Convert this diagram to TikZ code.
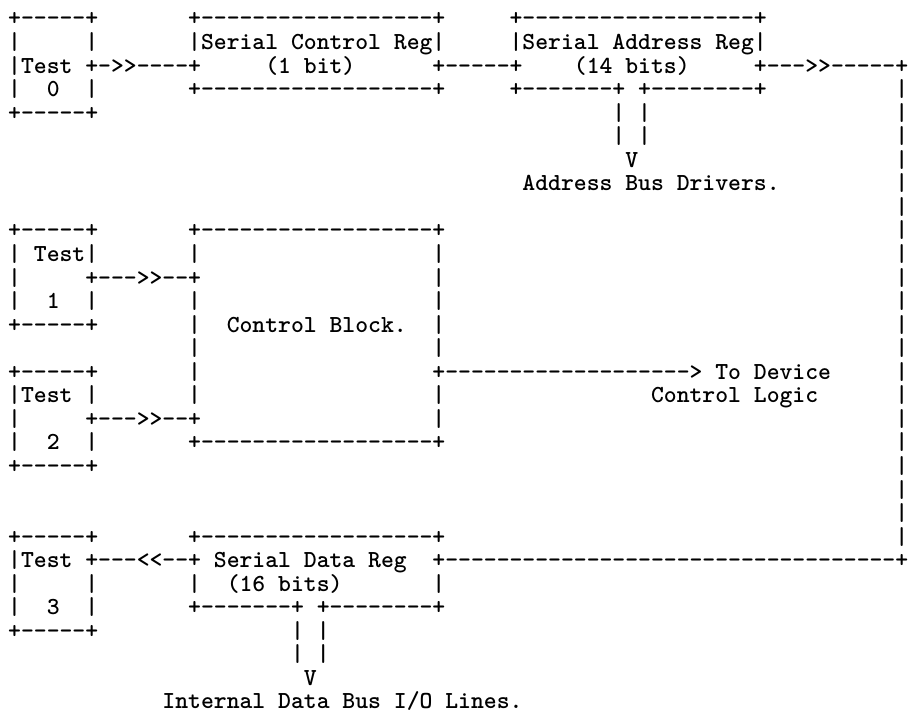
\documentclass[tikz,border=0pt]{standalone}
\usepackage{fontspec}
\usepackage{tikz}
\newfontfamily\asciifont{lmmonolt10-bold.otf}
\tikzset{asc/.style={font=\asciifont\fontsize{24.49pt}{24pt}\selectfont, anchor=base west, inner sep=0pt, outer sep=0pt}}

\begin{document}
\begin{tikzpicture}[x=12.857pt, y=-23.55pt]
    \useasboundingbox (-8.2pt,26pt) rectangle ++(908pt,-717pt);
    % Test 0 and the serial control / address registers
    \node[asc] (test0top) at (0,0) {+-----+};
    \node[asc] (ctltop) at (14,0) {+------------------+};
    \node[asc] (adrtop) at (39,0) {+------------------+};
    \node[asc] (test0side) at (0,1) {|~~~~~|};
    \node[asc] (ctlname) at (14,1) {|Serial~Control~Reg|};
    \node[asc] (adrname) at (39,1) {|Serial~Address~Reg|};
    \node[asc] (test0) at (0,2) {|Test~+->>----+};
    \node[asc] (ctlbits) at (20,2) {(1~bit)};
    \node[asc] (ctladr) at (33,2) {+-----+};
    \node[asc] (adrbits) at (44,2) {(14~bits)};
    \node[asc] (adrout) at (58,2) {+--->>-----+};
    \node[asc] (test0num) at (0,3) {|~~0~~|};
    \node[asc] (ctlbot) at (14,3) {+------------------+};
    \node[asc] (adrbot) at (39,3) {+-------+~+--------+};
    \node[asc] (test0bot) at (0,4) {+-----+};

    % Address bus
    \node[asc] (abus1) at (47,4) {|~|};
    \node[asc] (abus2) at (47,5) {|~|};
    \node[asc] (aarrow) at (48,6) {V};
    \node[asc] (abus) at (40,7) {Address~Bus~Drivers.};

    % Return line on the right edge
    \foreach \r in {3,...,22} \node[asc] (ret\r) at (69,\r) {|};

    % Test 1, Test 2 and the control block
    \node[asc] (test1top) at (0,9) {+-----+};
    \node[asc] (blocktop) at (14,9) {+------------------+};
    \node[asc] (test1name) at (0,10) {|~Test|};
    \node[asc] (test1) at (0,11) {|~~~~~+--->>--+};
    \node[asc] (test1num) at (0,12) {|~~1~~|};
    \node[asc] (test1bot) at (0,13) {+-----+};
    \node[asc] (block) at (14,13) {|~~Control~Block.~~|};
    \foreach \r in {10,12,14,15,16} \node[asc] (blockl\r) at (14,\r) {|};
    \foreach \r in {10,11,12,14,16,17} \node[asc] (blockr\r) at (33,\r) {|};
    \node[asc] (test2top) at (0,15) {+-----+};
    \node[asc] (devout) at (33,15) {+------------------->~To~Device};
    \node[asc] (test2name) at (0,16) {|Test~|};
    \node[asc] (devlogic) at (50,16) {Control~Logic};
    \node[asc] (test2) at (0,17) {|~~~~~+--->>--+};
    \node[asc] (test2num) at (0,18) {|~~2~~|};
    \node[asc] (blockbot) at (14,18) {+------------------+};
    \node[asc] (test2bot) at (0,19) {+-----+};

    % Test 3 and the serial data register
    \node[asc] (test3top) at (0,22) {+-----+};
    \node[asc] (dattop) at (14,22) {+------------------+};
    \node[asc] (test3) at (0,23) {|Test~+---<<--+};
    \node[asc] (datname) at (16,23) {Serial~Data~Reg};
    \node[asc] (datin) at (33,23) {+-----------------------------------+};
    \node[asc] (test3side) at (0,24) {|~~~~~|};
    \node[asc] (datbits) at (14,24) {|~~(16~bits)};
    \node[asc] (datr) at (33,24) {|};
    \node[asc] (test3num) at (0,25) {|~~3~~|};
    \node[asc] (datbot) at (14,25) {+-------+~+--------+};
    \node[asc] (test3bot) at (0,26) {+-----+};

    % Data bus
    \node[asc] (dbus1) at (22,26) {|~|};
    \node[asc] (dbus2) at (22,27) {|~|};
    \node[asc] (darrow) at (23,28) {V};
    \node[asc] (dbus) at (12,29) {Internal~Data~Bus~I/O~Lines.};
\end{tikzpicture}
\end{document}
